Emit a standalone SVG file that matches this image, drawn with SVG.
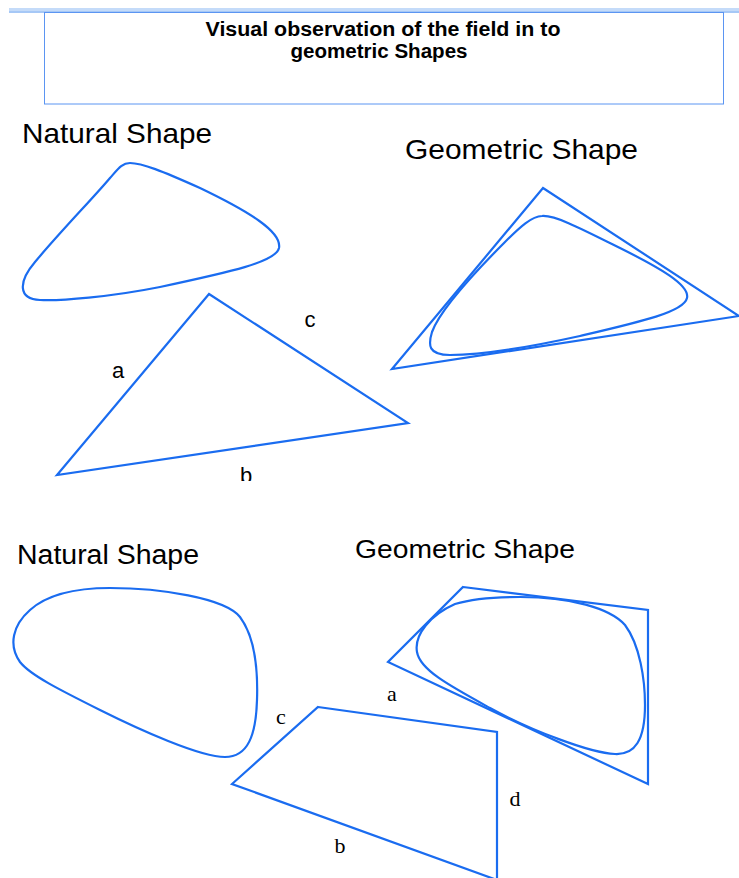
<svg xmlns="http://www.w3.org/2000/svg" width="739" height="878" viewBox="0 0 739 878">
<style>
.shape{fill:none;stroke:#1a6cf0;stroke-width:2.2;stroke-linejoin:miter}
.lbl{font-family:"Liberation Sans",Arial,sans-serif;fill:#000}
.ser{font-family:"Liberation Serif","Times New Roman",serif;fill:#000;font-size:22px}
.title{font-family:"Liberation Sans",Arial,sans-serif;font-weight:bold;font-size:20px;fill:#000;text-anchor:middle}
</style>
<defs>
<clipPath id="clipTop"><rect x="0" y="0" width="739" height="481"/></clipPath>
</defs>
<rect x="0" y="0" width="739" height="878" fill="#fff"/>
<rect x="9" y="8" width="730" height="5" fill="#c4dbf9"/>
<line x1="9" y1="12" x2="739" y2="12" stroke="#9cc2f4" stroke-width="1.5"/>
<g id="title">
<rect x="44.5" y="12.5" width="679" height="91.5" fill="none" stroke="#5b95f2" stroke-width="1"/>
<text class="title" x="383" y="35.5" textLength="355" lengthAdjust="spacingAndGlyphs">Visual observation of the field in to</text>
<text class="title" x="379" y="58" textLength="177" lengthAdjust="spacingAndGlyphs">geometric Shapes</text>
</g>
<g id="label-natural-1"><text class="lbl" x="22" y="143" font-size="28.5" textLength="190" lengthAdjust="spacingAndGlyphs">Natural Shape</text></g>
<g id="label-geometric-1"><text class="lbl" x="405" y="159" font-size="28" textLength="233" lengthAdjust="spacingAndGlyphs">Geometric Shape</text></g>
<g id="label-natural-2"><text class="lbl" x="17" y="564" font-size="27" textLength="182" lengthAdjust="spacingAndGlyphs">Natural Shape</text></g>
<g id="label-geometric-2"><text class="lbl" x="355" y="558" font-size="26.5" textLength="220" lengthAdjust="spacingAndGlyphs">Geometric Shape</text></g>
<g id="natural-blob-1">
<path class="shape" d="M 130 163 C 142 163, 162 171, 200 188 C 250 212, 282 232, 279 248 C 276 262, 230 272, 160 287 C 110 297, 60 301, 40 300 C 18 299, 18 282, 35 262 C 60 232, 95 196, 110 178 C 118 169, 122 163, 130 163 Z"/>
</g>
<g id="triangle-abc">
<polygon class="shape" points="209,294 408,423 57,475"/>
<text class="lbl" x="310" y="327" font-size="22" text-anchor="middle">c</text>
<text class="lbl" x="118" y="378" font-size="22" text-anchor="middle">a</text>
<text class="lbl" x="246" y="482.5" font-size="22" text-anchor="middle" clip-path="url(#clipTop)">b</text>
</g>
<g id="geometric-1">
<polygon class="shape" points="543,188 739,316 392,369"/>
<path class="shape" d="M 542 216 C 555 215, 580 228, 620 248 C 660 268, 690 285, 687 298 C 684 312, 640 322, 580 336 C 530 347, 480 355, 450 355 C 428 355, 428 345, 432 332 C 440 310, 475 272, 505 242 C 520 227, 532 216, 542 216 Z"/>
</g>
<g id="natural-blob-2">
<path class="shape" d="M 110 588 C 160 588, 225 598, 240 617 C 255 637, 258 670, 257 700 C 256 735, 248 757, 225 757 C 200 757, 140 730, 100 710 C 60 690, 30 675, 20 662 C 8 645, 13 625, 30 610 C 50 592, 80 588, 110 588 Z"/>
</g>
<g id="quad-abcd">
<polygon class="shape" points="318,707 497,732 497,880 232,784"/>
<text class="ser" x="281" y="724" text-anchor="middle">c</text>
<text class="ser" x="392" y="701" text-anchor="middle">a</text>
<text class="ser" x="515" y="806" text-anchor="middle">d</text>
<text class="ser" x="340" y="853" text-anchor="middle">b</text>
</g>
<g id="geometric-2">
<polygon class="shape" points="463,587 648,610 648,784 388,662"/>
<path class="shape" d="M 520 597 C 570 597, 610 608, 625 625 C 640 645, 645 680, 645 705 C 645 740, 635 755, 615 754 C 590 753, 530 730, 490 708 C 450 686, 420 670, 417 652 C 414 635, 430 615, 455 604 C 475 598, 500 597, 520 597 Z"/>
</g>
<g id="connectors"></g>
</svg>
